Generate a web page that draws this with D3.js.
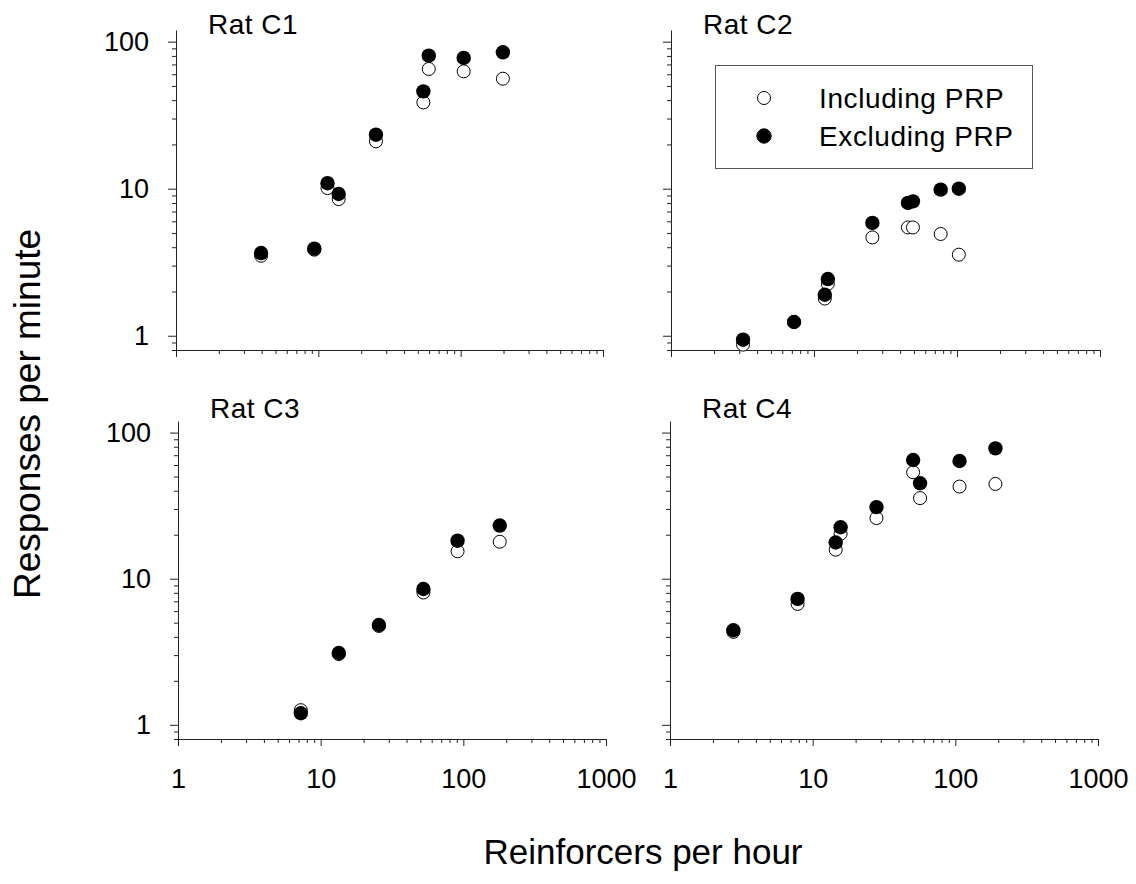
<!DOCTYPE html>
<html>
<head>
<meta charset="utf-8">
<script src="https://cdn.jsdelivr.net/npm/d3@7.9.0/dist/d3.min.js"></script>
<style>
  body { margin: 0; background: #fff; }
  svg { display: block; font-family: "Liberation Sans", Arial, sans-serif; }
  .axis path, .axis line { stroke: #222; }
  .axis text { font-size: 27px; fill: #000; }
</style>
</head>
<body>
<div id="chart"></div>
<script>
// reinforcers per hour (x) and responses per minute (y) for each rat
const ratNames = ['Rat C1', 'Rat C2', 'Rat C3', 'Rat C4'];

const c1Rate = [3.96, 9.37, 11.6, 13.9, 25.4, 54.7, 59.7, 105, 198];
const c1Incl = [3.5, 3.85, 10.1, 8.5, 21.0, 38.6, 65.2, 62.8, 56];
const c1Excl = [3.65, 3.91, 10.9, 9.2, 23.3, 45.9, 80.3, 77.5, 84.6];

const c2Rate = [3.19, 7.25, 11.9, 12.5, 25.6, 45.4, 49.2, 76.9, 103];
const c2Incl = [0.87, 1.24, 1.79, 2.26, 4.66, 5.45, 5.45, 4.92, 3.56];
const c2Excl = [0.94, 1.24, 1.90, 2.43, 5.85, 8.0, 8.2, 9.85, 10.0];

const c3Rate = [7.26, 13.4, 25.6, 52.5, 91.1, 180];
const c3Incl = [1.26, 3.05, 4.75, 8.05, 15.4, 17.9];
const c3Excl = [1.20, 3.10, 4.82, 8.5, 18.2, 23.1];

const c4Rate = [2.78, 7.84, 14.5, 15.7, 28.0, 50.6, 56.6, 107, 191];
const c4Incl = [4.33, 6.72, 15.8, 20.3, 26.0, 53.5, 35.6, 42.7, 44.5];
const c4Excl = [4.44, 7.27, 17.7, 22.5, 30.9, 64.9, 45.0, 63.9, 78.0];

const xMajor = [1, 10, 100, 1000];
const yMajor = [1, 10, 100];
const legendLabels = ['Including PRP', 'Excluding PRP'];

const width = 1136;
const height = 884;

// panel boxes in pixels
const panels = [
  { name: ratNames[0], rate: c1Rate, incl: c1Incl, excl: c1Excl, left: 176, right: 603, top: 30, bottom: 350, yLabels: true, xLabels: false },
  { name: ratNames[1], rate: c2Rate, incl: c2Incl, excl: c2Excl, left: 671, right: 1100, top: 30, bottom: 350, yLabels: false, xLabels: false },
  { name: ratNames[2], rate: c3Rate, incl: c3Incl, excl: c3Excl, left: 178, right: 606, top: 421, bottom: 739, yLabels: true, xLabels: true },
  { name: ratNames[3], rate: c4Rate, incl: c4Incl, excl: c4Excl, left: 670, right: 1098, top: 421, bottom: 739, yLabels: false, xLabels: true },
];

// minor tick values for a log axis
function minorTicks(lo, hi) {
  const out = [];
  for (let p = -1; p <= 3; p++) {
    for (let m = 2; m <= 9; m++) {
      const v = m * Math.pow(10, p);
      if (v >= lo && v <= hi) out.push(v);
    }
  }
  return out;
}

const svg = d3.select('#chart')
  .append('svg')
  .attr('width', width)
  .attr('height', height);

panels.forEach((p) => {
  const x = d3.scaleLog().domain([1, 1000]).range([p.left, p.right]);
  const y = d3.scaleLog().domain([0.8, 120]).range([p.bottom, p.top]);

  const g = svg.append('g');

  // y axis: minor then major
  g.append('g')
    .attr('class', 'axis')
    .attr('transform', `translate(${p.left},0)`)
    .call(d3.axisLeft(y).tickValues(minorTicks(0.8, 100)).tickSize(4).tickSizeOuter(0).tickFormat(''));
  const yAx = g.append('g')
    .attr('class', 'axis')
    .attr('transform', `translate(${p.left},0)`)
    .call(d3.axisLeft(y).tickValues(yMajor).tickSize(8).tickSizeOuter(0).tickPadding(19)
      .tickFormat(p.yLabels ? d3.format('d') : ''));
  yAx.select('.domain').remove();

  // x axis: minor then major
  g.append('g')
    .attr('class', 'axis')
    .attr('transform', `translate(0,${p.bottom})`)
    .call(d3.axisBottom(x).tickValues(minorTicks(1, 1000)).tickSize(4).tickSizeOuter(0).tickFormat(''));
  const xAx = g.append('g')
    .attr('class', 'axis')
    .attr('transform', `translate(0,${p.bottom})`)
    .call(d3.axisBottom(x).tickValues(xMajor).tickSize(7).tickSizeOuter(0).tickPadding(23)
      .tickFormat(p.xLabels ? d3.format('d') : ''));
  xAx.select('.domain').remove();

  // panel title
  g.append('text')
    .attr('x', p.left + 32)
    .attr('y', p.top + (p.top < 100 ? 4 : -3))
    .attr('font-size', 28)
    .attr('letter-spacing', 0.5)
    .text(p.name);

  const pts = p.rate.map((r, i) => ({ r, incl: p.incl[i], excl: p.excl[i] }));

  // open = including PRP, filled = excluding PRP (drawn on top)
  g.append('g').selectAll('circle')
    .data(pts)
    .join('circle')
    .attr('cx', (d) => x(d.r))
    .attr('cy', (d) => y(d.incl))
    .attr('r', 6.5)
    .attr('fill', '#fff')
    .attr('stroke', '#000')
    .attr('stroke-width', 1);

  g.append('g').selectAll('circle')
    .data(pts)
    .join('circle')
    .attr('cx', (d) => x(d.r))
    .attr('cy', (d) => y(d.excl))
    .attr('r', 7.2)
    .attr('fill', '#000');
});

// legend in Rat C2 panel
const legend = svg.append('g');
legend.append('rect')
  .attr('x', 715.5).attr('y', 65.5)
  .attr('width', 317).attr('height', 103)
  .attr('fill', '#fff')
  .attr('stroke', '#555');
legendLabels.forEach((lab, i) => {
  const cy = 98 + i * 38;
  legend.append('circle')
    .attr('cx', 764).attr('cy', cy)
    .attr('r', i === 0 ? 6.5 : 7.2)
    .attr('fill', i === 0 ? '#fff' : '#000')
    .attr('stroke', '#000');
  legend.append('text')
    .attr('x', 819).attr('y', cy + 10)
    .attr('font-size', 28)
    .attr('letter-spacing', 0.6)
    .text(lab);
});

// axis titles
svg.append('text')
  .attr('transform', 'translate(40,414) rotate(-90)')
  .attr('text-anchor', 'middle')
  .attr('font-size', 37)
  .text('Responses per minute');

svg.append('text')
  .attr('x', 643).attr('y', 864)
  .attr('text-anchor', 'middle')
  .attr('font-size', 35)
  .text('Reinforcers per hour');
</script>
</body>
</html>
